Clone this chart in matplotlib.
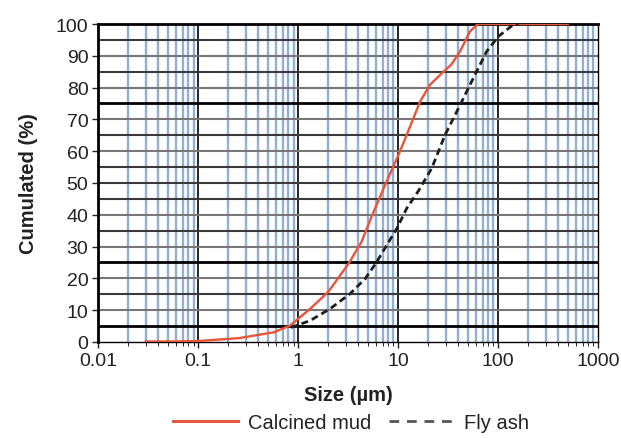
import numpy as np
import matplotlib.pyplot as plt
from matplotlib.lines import Line2D

# particle size distribution (cumulative passing, %)
mud_size = [0.03, 0.06, 0.1, 0.26, 0.57, 0.83, 1.32, 2.0, 3.2, 4.3, 5.5, 7.4, 10.0,
            12.2, 16.6, 20.9, 26.3, 34, 41.7, 52.5, 63, 500]
mud_cum = [0.1, 0.15, 0.25, 1.2, 3.0, 5.1, 10.4, 15.7, 24.6, 31.4, 39.8, 49.3, 58.5,
           65.1, 75.6, 80.9, 84.0, 87.2, 91.4, 97.7, 100, 100]

ash_size = [0.85, 1.32, 2.09, 3.3, 4.7, 6.1, 7.7, 9.7, 12.2, 16, 21.7, 29.5, 41.7,
            56.6, 77, 100.8, 142, 160]
ash_cum = [4.5, 6.7, 10.4, 15.1, 19.9, 25.1, 30.4, 35.6, 42.0, 47.5, 54.6, 65.1, 74.5,
           83.0, 91.4, 96.1, 99.8, 100]

xticks = [0.01, 0.1, 1, 10, 100, 1000]
xticklabels = ['0.01', '0.1', '1', '10', '100', '1000']
yticks = list(range(0, 101, 10))

plt.rcParams['font.family'] = ['Liberation Sans', 'DejaVu Sans']

fig = plt.figure(figsize=(6.21, 4.39), dpi=100)
ax = fig.add_axes([0.158, 0.219, 0.805, 0.724])

ax.set_xscale('log')
ax.set_xlim(0.01, 1000)
ax.set_ylim(0, 100)

# grid: blue lines on sub-decades, black on decades
for dec in [0.01, 0.1, 1, 10, 100]:
    for m in range(2, 10):
        ax.axvline(dec * m, color='#94afd6', lw=1.7, zorder=1)
    ax.axvline(dec, color='black', lw=1.2, zorder=2)
for v in range(5, 100, 5):
    if v in (5, 25, 75):
        ax.axhline(v, color='black', lw=2.0, zorder=2)
    elif v % 10 == 5 or v == 50:
        ax.axhline(v, color='#3a3a3a', lw=1.5, zorder=2)
    else:
        ax.axhline(v, color='#777777', lw=1.5, zorder=2)

ax.plot(mud_size, mud_cum, color='#e8553a', lw=1.7, zorder=4)
ax.plot(ash_size, ash_cum, color='#1e1e1e', lw=2.0, ls=(0, (2.5, 1.5)), zorder=4)

ax.set_xticks(xticks)
ax.set_xticklabels(xticklabels)
ax.set_yticks(yticks)
ax.tick_params(axis='both', labelsize=14, length=4, width=1, colors='#222222')
ax.tick_params(axis='x', which='minor', length=3)
ax.tick_params(axis='x', pad=3)
ax.tick_params(axis='y', pad=3)

for s in ['top', 'left']:
    ax.spines[s].set_linewidth(2.0)
for s in ['right', 'bottom']:
    ax.spines[s].set_linewidth(1.0)

ax.set_xlabel('Size (µm)', fontsize=14.5, fontweight='bold', color='#222222')
ax.xaxis.set_label_coords(0.5, -0.135)
ax.set_ylabel('Cumulated (%)', fontsize=14.5, fontweight='bold', color='#222222')
ax.yaxis.set_label_coords(-0.12, 0.5)

handles = [Line2D([], [], color='#e8553a', lw=2.2),
           Line2D([], [], color='#555555', lw=2.0, ls=(0, (3.5, 2.8)))]
fig.legend(handles, ['Calcined mud', 'Fly ash'], loc='center', bbox_to_anchor=(0.565, 0.035),
           ncol=2, frameon=False, fontsize=14.5, handlelength=3.2, columnspacing=0.9,
           handletextpad=0.5, labelcolor='#222222', borderpad=0.1)

fig.savefig('out.png', dpi=100)
